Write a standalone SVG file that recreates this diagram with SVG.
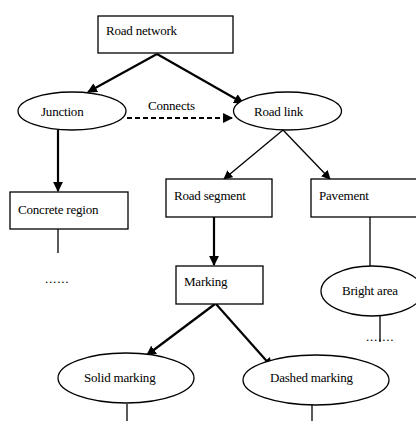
<svg xmlns="http://www.w3.org/2000/svg" width="416" height="421" viewBox="0 0 416 421">
<defs>
<style>
.box{fill:#fff;stroke:#000;stroke-width:1.3}
.ell{fill:#fff;stroke:#000;stroke-width:1.3}
.t{font-family:'Liberation Serif','DejaVu Serif',serif;font-size:13px;fill:#000;letter-spacing:-0.2px}
.dots{font-family:'Liberation Serif','DejaVu Serif',serif;font-size:13px;fill:#000;letter-spacing:0.8px}
.c{stroke:#000;fill:none}
.thick{stroke-width:2.2}
.thin{stroke-width:1.3}
.dash{stroke-width:2.2;stroke-dasharray:5 3}
</style>
<marker id="ah" viewBox="0 0 10 10" refX="9" refY="5" markerWidth="4.5" markerHeight="4.5" orient="auto" markerUnits="strokeWidth">
<path d="M0,0 L10,5 L0,10 z" fill="#000"/>
</marker>
<marker id="ahs" viewBox="0 0 10 10" refX="9" refY="5" markerWidth="7" markerHeight="7" orient="auto" markerUnits="strokeWidth">
<path d="M0,0 L10,5 L0,10 z" fill="#000"/>
</marker>
</defs>
<rect width="416" height="421" fill="#fff"/>
<g id="connectors">
<line class="c thick" x1="157" y1="54" x2="88" y2="92" marker-end="url(#ah)"/>
<line class="c thick" x1="157" y1="54" x2="243" y2="103" marker-end="url(#ah)"/>
<line class="c dash" x1="127" y1="118" x2="232" y2="118" marker-end="url(#ah)"/>
<line class="c thick" x1="58" y1="130" x2="58" y2="191" marker-end="url(#ah)"/>
<line class="c thin" x1="283" y1="130" x2="224" y2="179" marker-end="url(#ahs)"/>
<line class="c thin" x1="283" y1="130" x2="330" y2="179" marker-end="url(#ahs)"/>
<line class="c thick" x1="214" y1="217" x2="214" y2="265" marker-end="url(#ah)"/>
<line class="c thick" x1="215" y1="304" x2="147" y2="355" marker-end="url(#ah)"/>
<line class="c thick" x1="216" y1="304" x2="272" y2="367" marker-end="url(#ah)"/>
<line class="c thin" x1="58" y1="229" x2="58" y2="253"/>
<line class="c thin" x1="370" y1="217" x2="370" y2="266"/>
<line class="c thin" x1="380" y1="316" x2="380" y2="342"/>
<line class="c thin" x1="127" y1="404" x2="127" y2="421"/>
<line class="c thin" x1="312" y1="405" x2="312" y2="421"/>
<text class="t" x="148" y="110" font-family="Liberation Serif, serif">Connects</text>
</g>
<g id="road-network">
<rect class="box" x="98" y="16" width="135" height="37"/>
<text class="t" x="106" y="35" font-family="Liberation Serif, serif">Road network</text>
</g>
<g id="junction">
<ellipse class="ell" cx="72" cy="111" rx="54" ry="19"/>
<text class="t" x="41" y="116" font-family="Liberation Serif, serif">Junction</text>
</g>
<g id="road-link">
<ellipse class="ell" cx="287.5" cy="111" rx="54" ry="19"/>
<text class="t" x="254" y="116" font-family="Liberation Serif, serif">Road link</text>
</g>
<g id="concrete-region">
<rect class="box" x="10" y="192" width="118" height="37"/>
<text class="t" x="18" y="214" font-family="Liberation Serif, serif">Concrete region</text>
</g>
<g id="concrete-more">
<text class="dots" x="45" y="283" font-family="Liberation Serif, serif">......</text>
</g>
<g id="road-segment">
<rect class="box" x="166" y="179" width="106" height="38"/>
<text class="t" x="174" y="200" font-family="Liberation Serif, serif">Road segment</text>
</g>
<g id="pavement">
<rect class="box" x="311" y="179" width="110" height="38"/>
<text class="t" x="319" y="200" font-family="Liberation Serif, serif">Pavement</text>
</g>
<g id="marking">
<rect class="box" x="176" y="266" width="87" height="38"/>
<text class="t" x="184" y="286" font-family="Liberation Serif, serif">Marking</text>
</g>
<g id="bright-area">
<ellipse class="ell" cx="372" cy="291" rx="51" ry="25"/>
<text class="t" x="342" y="295" font-family="Liberation Serif, serif">Bright area</text>
</g>
<g id="bright-more">
<text class="dots" x="366" y="341" font-family="Liberation Serif, serif">.......</text>
</g>
<g id="solid-marking">
<ellipse class="ell" cx="126" cy="378" rx="68" ry="25"/>
<text class="t" x="84" y="382" font-family="Liberation Serif, serif">Solid marking</text>
</g>
<g id="dashed-marking">
<ellipse class="ell" cx="316" cy="380" rx="73" ry="25"/>
<text class="t" x="270" y="382" font-family="Liberation Serif, serif">Dashed marking</text>
</g>
</svg>
